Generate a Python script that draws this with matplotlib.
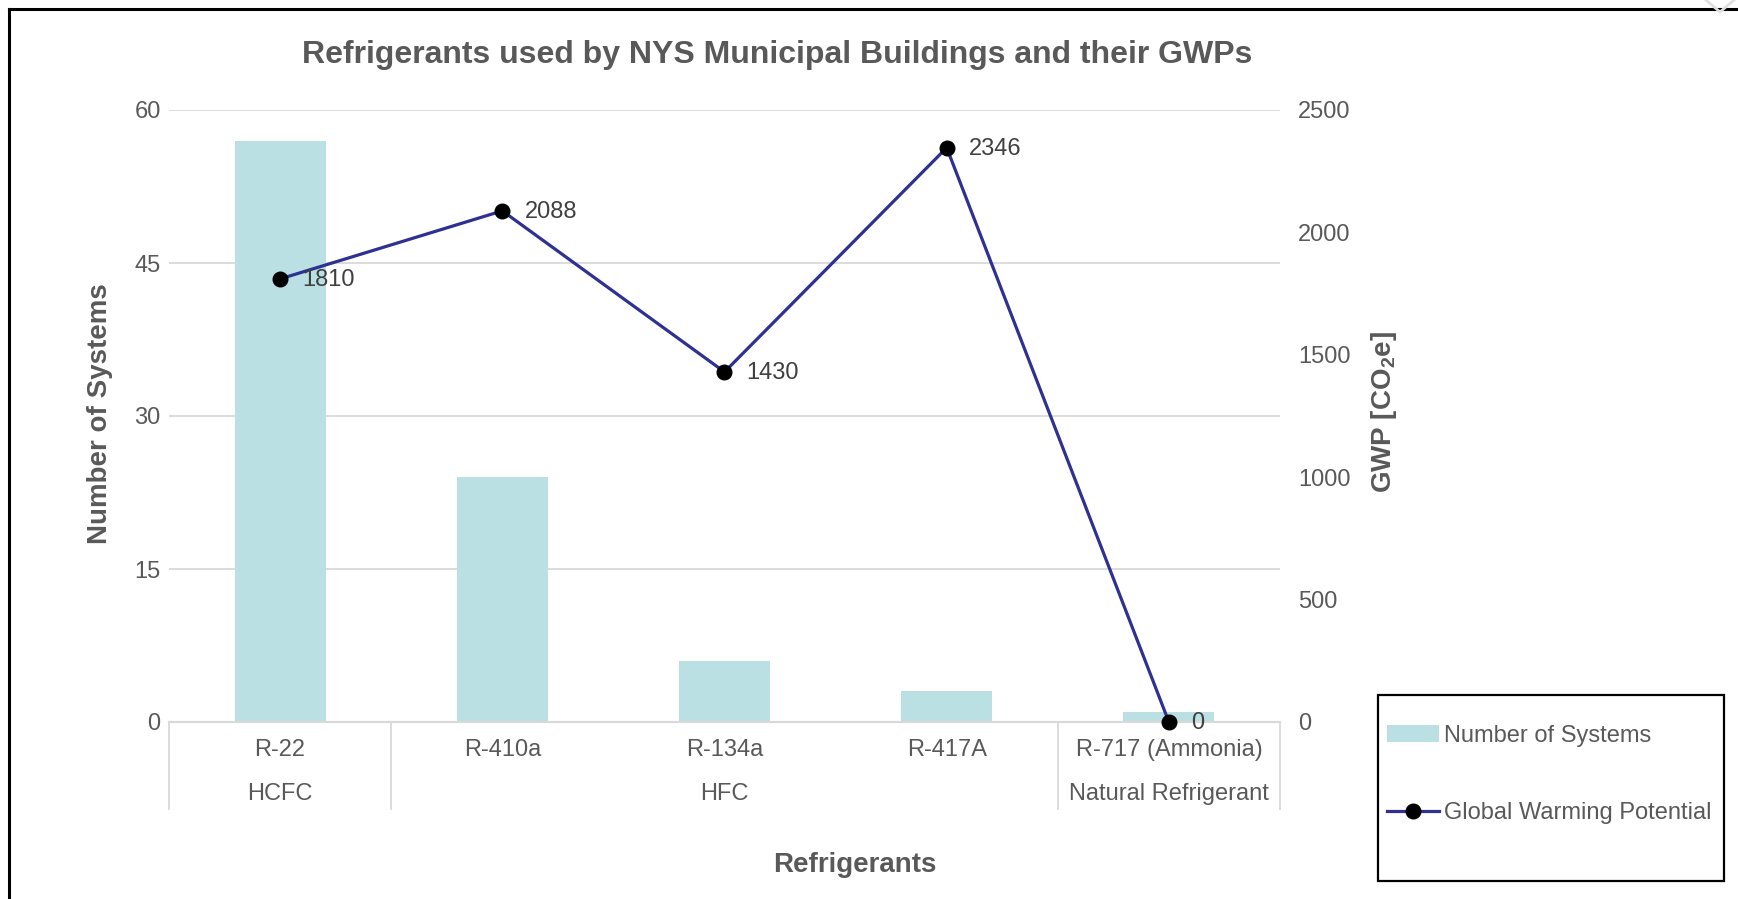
import numpy as np
import matplotlib
matplotlib.use('Agg')
import matplotlib.pyplot as plt
from matplotlib.lines import Line2D
from matplotlib.patches import Patch, Rectangle
import matplotlib.transforms as mtransforms

plt.rcParams['font.family'] = ['Liberation Sans', 'DejaVu Sans']
plt.rcParams['mathtext.fontset'] = 'custom'
plt.rcParams['mathtext.rm'] = 'Liberation Sans:bold'
plt.rcParams['mathtext.bf'] = 'Liberation Sans:bold'
plt.rcParams['mathtext.it'] = 'Liberation Sans:bold'

# data
refrigerants = ['R-22', 'R-410a', 'R-134a', 'R-417A', 'R-717 (Ammonia)']
groups = ['HCFC', 'HFC', 'Natural Refrigerant']
group_members = [[0], [1, 2, 3], [4]]
num_systems = [57, 24, 6, 3, 1]
gwp = [1810, 2088, 1430, 2346, 0]
left_ticks = [0, 15, 30, 45, 60]
right_ticks = [0, 500, 1000, 1500, 2000, 2500]

W, H = 1738, 899
grey = '#595959'
bar_col = '#BAE0E3'
line_col = '#2E3192'

fig = plt.figure(figsize=(W / 100, H / 100), dpi=100)

# plot area in pixels
x0, x1, ytop, ybot = 169, 1280, 110, 722
ax = fig.add_axes([x0 / W, 1 - ybot / H, (x1 - x0) / W, (ybot - ytop) / H])
ax2 = ax.twinx()

x = np.arange(len(refrigerants))
ax.bar(x, num_systems, width=0.41, color=bar_col, zorder=2, label='Number of Systems')
ax.set_xlim(-0.5, len(refrigerants) - 0.5)
ax.set_ylim(0, 60)
ax.set_yticks(left_ticks)
ax.yaxis.grid(True, color='#D9D9D9', linewidth=1.3, zorder=0)
ax.set_axisbelow(True)
ax.set_xticks([])

ax2.plot(x, gwp, color=line_col, linewidth=2.3, marker='o', markersize=10.5,
         markerfacecolor='black', markeredgecolor='black', zorder=5,
         label='Global Warming Potential', clip_on=False)
ax2.set_ylim(0, 2500)
ax2.set_yticks(right_ticks)

for a in (ax, ax2):
    for s in ['top', 'left', 'right']:
        a.spines[s].set_visible(False)
    a.spines['bottom'].set_color('#D9D9D9')
    a.spines['bottom'].set_linewidth(1.5)
    a.tick_params(axis='both', length=0, labelsize=17, labelcolor=grey)
ax.tick_params(axis='y', pad=6)
ax2.tick_params(axis='y', pad=13)

for xi, v in zip(x, gwp):
    ax2.annotate(str(v), (xi, v), xytext=(16, -1), textcoords='offset points',
                 ha='left', va='center', fontsize=17, color='#404040', zorder=6,
                 annotation_clip=False)

# multi-level category axis
trans = mtransforms.blended_transform_factory(ax.transData, ax.transAxes)
row1 = -(750 - ybot) / (ybot - ytop)
row2 = -(794 - ybot) / (ybot - ytop)
sep_bottom = -(809 - ybot) / (ybot - ytop)
for xi, lab in zip(x, refrigerants):
    ax.text(xi, row1, lab, transform=trans, ha='center', va='center',
            fontsize=17, color=grey)
for members, lab in zip(group_members, groups):
    ax.text(np.mean(members), row2, lab, transform=trans, ha='center', va='center',
            fontsize=17, color=grey)
edges = [members[0] - 0.5 for members in group_members] + [group_members[-1][-1] + 0.5]
for e in edges:
    ax.plot([e, e], [0, sep_bottom], transform=trans, color='#D9D9D9',
            linewidth=1.3, clip_on=False)

# titles
fig.text(777 / W, 1 - 55 / H, 'Refrigerants used by NYS Municipal Buildings and their GWPs',
         ha='center', va='center', fontsize=23, fontweight='bold', color=grey)
fig.text(855 / W, 1 - 865 / H, 'Refrigerants', ha='center', va='center',
         fontsize=20, fontweight='bold', color=grey)
fig.text(100 / W, 1 - 414 / H, 'Number of Systems', ha='center', va='center',
         rotation=90, fontsize=20, fontweight='bold', color=grey)
fig.text(1384 / W, 1 - 412 / H, r'GWP [CO$_2$e]', ha='center', va='center',
         rotation=90, fontsize=20, fontweight='bold', color=grey)

# legend
handles = [Patch(facecolor=bar_col, edgecolor='none'),
           Line2D([0], [0], color=line_col, linewidth=2.3, marker='o', markersize=10.5,
                  markerfacecolor='black', markeredgecolor='black')]
labels = ['Number of Systems', 'Global Warming Potential']
leg = fig.legend(handles, labels, loc='upper left', bbox_to_anchor=(1387 / W, 1 - 725 / H),
                 frameon=False, fontsize=17, labelcolor=grey, handlelength=2.2,
                 handletextpad=0.22, labelspacing=2.35, borderpad=0, borderaxespad=0)
fig.add_artist(Rectangle((1378 / W, 1 - 881 / H), (1724 - 1378) / W, (881 - 695) / H,
                         transform=fig.transFigure, fill=False, edgecolor='black',
                         linewidth=1.6))

# outer border of the chart area
fig.add_artist(Line2D([9 / W, 1], [1 - 9 / H, 1 - 9 / H], transform=fig.transFigure,
                      color='black', linewidth=2.2))
fig.add_artist(Line2D([9 / W, 9 / W], [0, 1 - 9 / H], transform=fig.transFigure,
                      color='black', linewidth=2.2))
# faint chevron at the top right corner
fig.add_artist(Line2D([1706 / W, 1720 / W, 1734 / W], [1.0, 1 - 12 / H, 1.0],
                      transform=fig.transFigure, color='#E0E0E0', linewidth=2))

fig.savefig('out.png', dpi=100)
